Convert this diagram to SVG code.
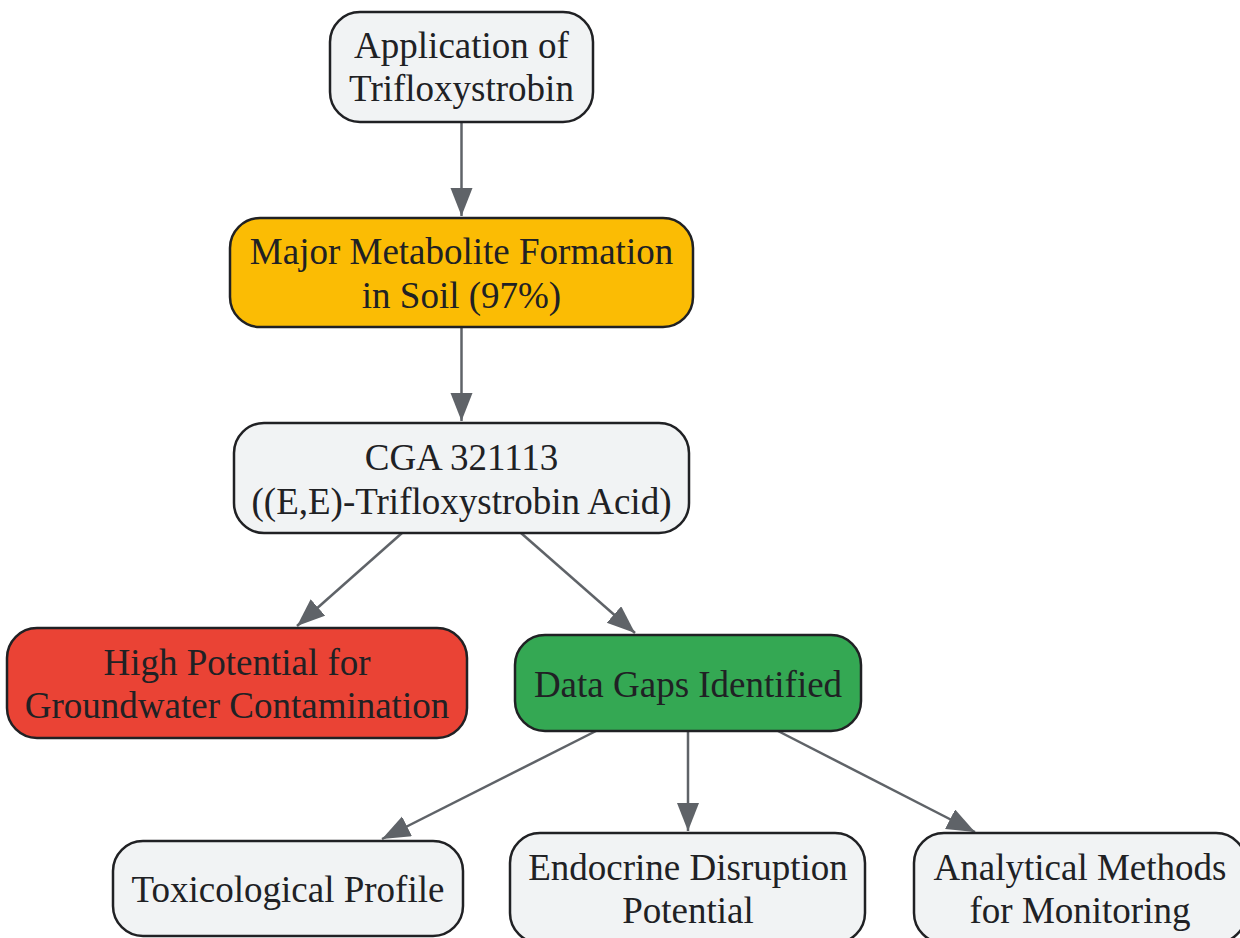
<svg xmlns="http://www.w3.org/2000/svg" width="1240" height="938" viewBox="0 0 1240 938">
<style>
.n{stroke:#202124;stroke-width:2.5}
.light{fill:#F1F3F4}
.amber{fill:#FBBC04}
.red{fill:#EA4335}
.green{fill:#34A853}
.t{font-family:"Liberation Serif","Times New Roman",serif;font-size:37px;fill:#202124;text-anchor:middle}
.e{stroke:#5F6368;stroke-width:2.5;fill:none;marker-end:url(#arr)}
</style>
<defs>
<marker id="arr" markerUnits="userSpaceOnUse" markerWidth="30" markerHeight="24" refX="28" refY="11" orient="auto">
<path d="M0,0 L28,11 L0,22 z" fill="#5F6368"/>
</marker>
</defs>
<rect width="1240" height="938" fill="#FFFFFF"/>
<g id="edges">
<path class="e" d="M461.5,122 L461.5,216"/>
<path class="e" d="M461.5,327 L461.5,421"/>
<path class="e" d="M402,533 L297,626"/>
<path class="e" d="M521,533 L635,633"/>
<path class="e" d="M596,731 L382,839"/>
<path class="e" d="M688,731 L688,831"/>
<path class="e" d="M778,731 L975,832"/>
</g>
<g id="n1">
<rect class="n light" x="330" y="12" width="263" height="110" rx="30"/>
<text class="t" x="461.5" y="58">Application of</text>
<text class="t" x="461.5" y="101">Trifloxystrobin</text>
</g>
<g id="n2">
<rect class="n amber" x="230" y="218" width="463" height="109" rx="30"/>
<text class="t" x="461.5" y="264">Major Metabolite Formation</text>
<text class="t" x="461.5" y="308">in Soil (97%)</text>
</g>
<g id="n3">
<rect class="n light" x="234" y="423" width="455" height="110" rx="30"/>
<text class="t" x="461.5" y="470">CGA 321113</text>
<text class="t" x="461.5" y="514">((E,E)-Trifloxystrobin Acid)</text>
</g>
<g id="n4">
<rect class="n red" x="7" y="628" width="460" height="110" rx="30"/>
<text class="t" x="237" y="675">High Potential for</text>
<text class="t" x="237" y="718">Groundwater Contamination</text>
</g>
<g id="n5">
<rect class="n green" x="515" y="635" width="346" height="96" rx="30"/>
<text class="t" x="688" y="697">Data Gaps Identified</text>
</g>
<g id="n6">
<rect class="n light" x="113" y="841" width="350" height="95" rx="30"/>
<text class="t" x="288" y="902">Toxicological Profile</text>
</g>
<g id="n7">
<rect class="n light" x="510" y="833" width="355" height="110" rx="30"/>
<text class="t" x="688" y="880">Endocrine Disruption</text>
<text class="t" x="688" y="923">Potential</text>
</g>
<g id="n8">
<rect class="n light" x="914" y="833" width="332" height="110" rx="30"/>
<text class="t" x="1080" y="880">Analytical Methods</text>
<text class="t" x="1080" y="923">for Monitoring</text>
</g>
</svg>
